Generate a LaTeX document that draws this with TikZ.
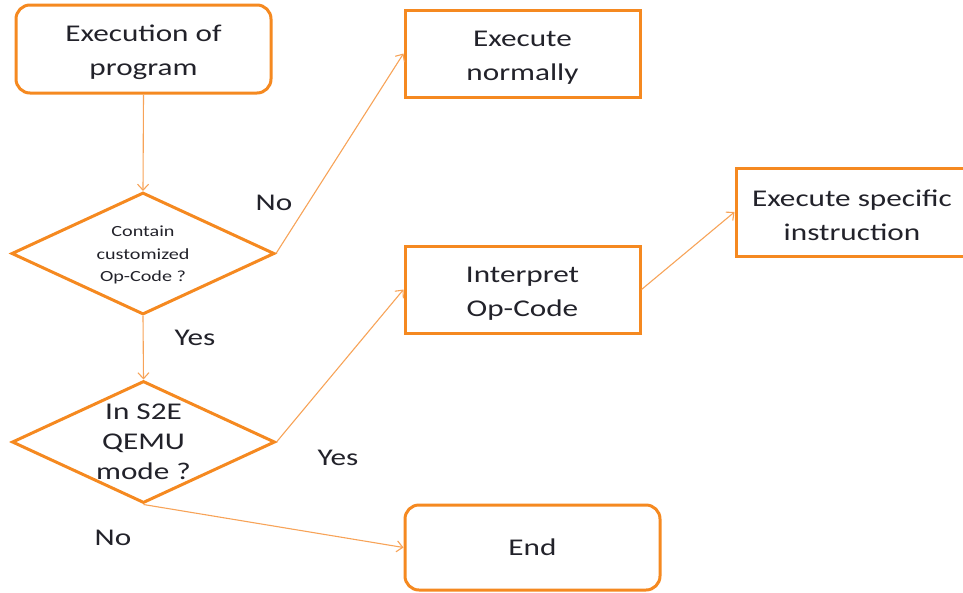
\documentclass[tikz,border=0pt]{standalone}
\usepackage{fontspec}
\setmainfont{Carlito}[FakeStretch=1.3]
\usetikzlibrary{arrows.meta,shapes.geometric}
\definecolor{boxorange}{RGB}{245,137,32}
\definecolor{lineorange}{RGB}{247,163,88}
\definecolor{ink}{RGB}{34,34,42}
% taller first line so two-line captions sit slightly low in their boxes
\newcommand\liftline{\rule{0pt}{23pt}}
\tikzset{
  every node/.style={text=ink},
  basebox/.style={draw=boxorange, line width=3pt, align=center, inner sep=0pt,
    font=\fontsize{24}{34}\selectfont},
  roundbox/.style={basebox, rounded corners=14pt},
  squarebox/.style={basebox},
  decision/.style={draw=boxorange, line width=3pt, shape=diamond, inner sep=0pt,
    minimum width=263pt, minimum height=122pt},
  smalltxt/.style={align=center, font=\fontsize{15.5}{22.5}\selectfont},
  midtxt/.style={align=center, font=\fontsize{24}{30}\selectfont},
  answer/.style={font=\fontsize{24}{28}\selectfont},
  flow/.style={draw=lineorange, line width=1.1pt,
    -{Straight Barb[length=6pt,width=11pt,line width=1.1pt]}},
}
\begin{document}
\begin{tikzpicture}[x=1pt,y=-1pt]
  \useasboundingbox (0,0) rectangle (963,592);
  \clip (0,0) rectangle (963,592);

  % process boxes
  \node[roundbox, minimum width=255pt, minimum height=88pt] (prog) at (143.5,49)
    {\liftline Execution of\\program};
  \node[squarebox, minimum width=235pt, minimum height=87pt] (normal) at (522.5,53.5)
    {\liftline Execute\\normally};
  \node[squarebox, minimum width=235pt, minimum height=87pt] (interp) at (522.5,289.5)
    {\liftline Interpret\\Op-Code};
  \node[squarebox, minimum width=232pt, minimum height=88pt] (spec) at (852,212)
    {\liftline Execute specific\\instruction};
  \node[roundbox, minimum width=255pt, minimum height=85pt] (end) at (532.5,547.5)
    {End};

  % decisions
  \node[decision] (d1) at (143,253.5) {};
  \node[smalltxt] (d1txt) at (143,255) {Contain\\customized\\Op-Code ?};
  \node[decision] (d2) at (143.5,442) {};
  \node[midtxt] (d2txt) at (143.5,441.5) {In S2E\\QEMU\\mode ?};

  % connectors
  \draw[flow] (prog.south) -- (d1.north);
  \draw[flow] (d1.east) -- (normal.west);
  \draw[flow] (d1.south) -- (d2.north);
  \draw[flow] (d2.east) -- (interp.west);
  \draw[flow] (interp.east) -- (spec.west);
  \draw[flow] (d2.south) -- (end.west);

  % branch labels
  \node[answer] (no1) at (274,203) {No};
  \node[answer] (yes1) at (195,338) {Yes};
  \node[answer] (yes2) at (338,458) {Yes};
  \node[answer] (no2) at (113,538) {No};
\end{tikzpicture}
\end{document}
